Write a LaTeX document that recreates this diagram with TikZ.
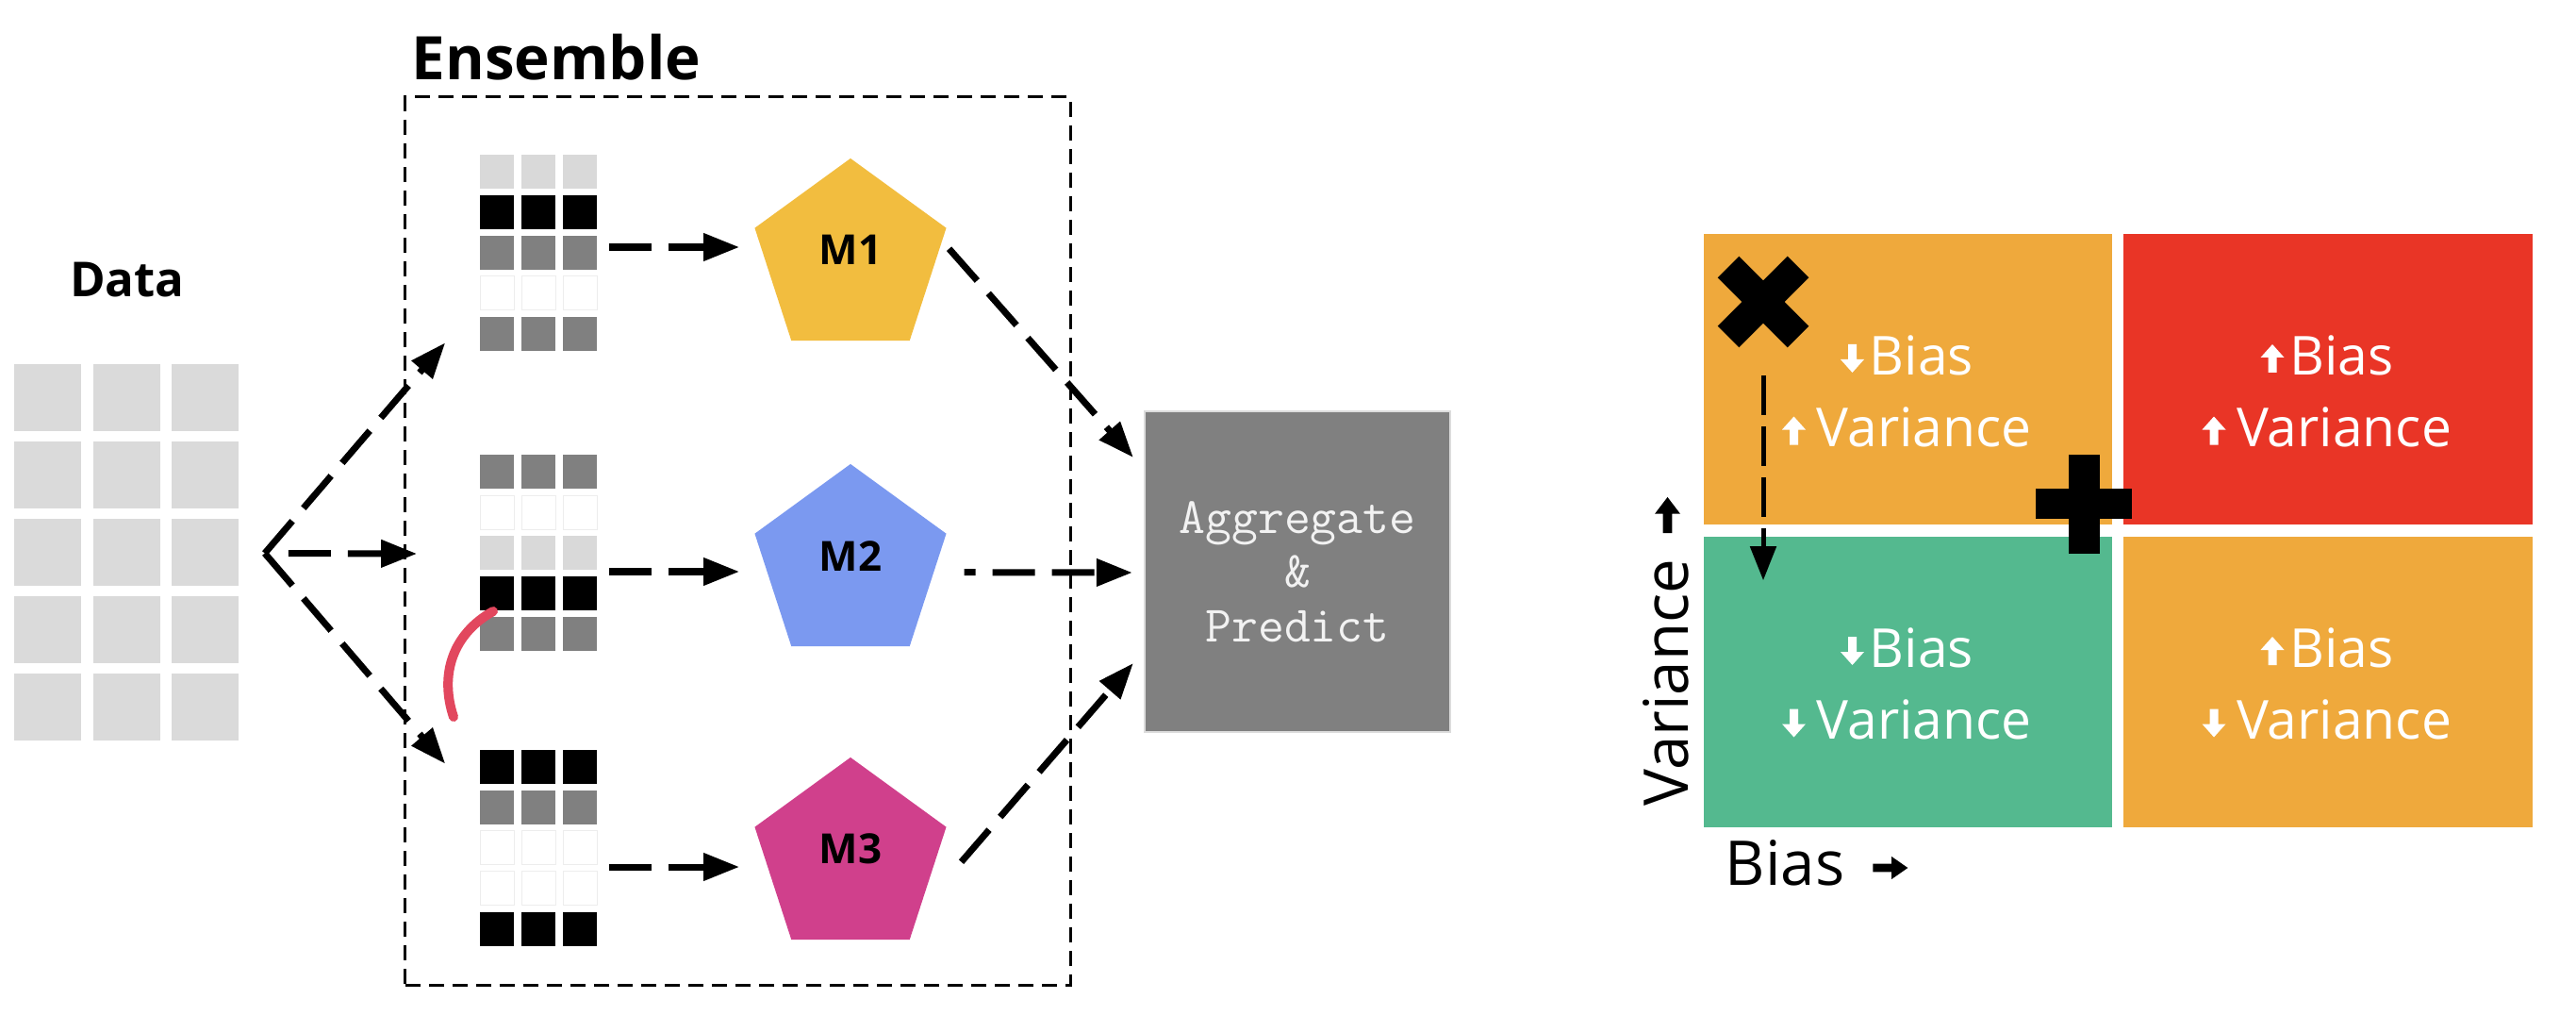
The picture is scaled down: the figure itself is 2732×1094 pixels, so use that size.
\documentclass[tikz,border=0pt]{standalone}
\usepackage{fontspec}
\setmainfont{Open Sans}
\usepackage{tikz}
\usetikzlibrary{positioning,shapes.geometric,arrows.meta}

\definecolor{datagray}{HTML}{DADADA}
\definecolor{celllight}{HTML}{D9D9D9}
\definecolor{cellgray}{HTML}{808080}
\definecolor{mone}{HTML}{F2BD3F}
\definecolor{mtwo}{HTML}{7B99F0}
\definecolor{mthree}{HTML}{D0408C}
\definecolor{aggfill}{HTML}{808080}
\definecolor{aggline}{HTML}{DCDCDC}
\definecolor{aggtext}{HTML}{F2F2F2}
\definecolor{qorange}{HTML}{EFA93C}
\definecolor{qred}{HTML}{E93526}
\definecolor{qgreen}{HTML}{54B98F}
\definecolor{penred}{HTML}{E2475E}

% small heavy arrow, pointing up, centred on its origin
\tikzset{fatarrow/.pic={
  \fill (0,-15) -- (12.5,-1) -- (4.5,-1) -- (4.5,15) -- (-4.5,15) -- (-4.5,-1) -- (-12.5,-1) -- cycle;}}

\begin{document}
\begin{tikzpicture}
        [x=0.01cm,y=-0.01cm,
         gridbox/.style={inner sep=0pt,minimum width=1.24cm,minimum height=2.08cm},
         model/.style={regular polygon,regular polygon sides=5,minimum size=2.134cm,inner sep=0pt,outer sep=0pt},
         mtext/.style={inner sep=0pt,font=\bfseries\fontsize{12.5}{15}\selectfont},
         ensbox/.style={draw,line width=0.03cm,dash pattern=on 0.16cm off 0.09cm,minimum width=7.05cm,minimum height=9.41cm},
         aggbox/.style={fill=aggfill,draw=aggline,line width=0.02cm,minimum width=3.24cm,minimum height=3.4cm,
           align=center,text=aggtext,font=\ttfamily\fontsize{15.4}{16.3}\selectfont},
         quad/.style={inner sep=0pt,minimum width=4.33cm,minimum height=3.08cm},
         qword/.style={inner sep=0pt,text=white,font=\fontsize{16.2}{19}\selectfont},
         axisword/.style={inner sep=0pt,font=\fontsize{18.6}{22}\selectfont},
         flow/.style={line width=0.07cm,dash pattern=on 0.45cm off 0.18cm,-{Triangle[length=0.38cm,width=0.28cm]}},
         move/.style={line width=0.05cm,dash pattern=on 0.42cm off 0.12cm,-{Triangle[length=0.36cm,width=0.27cm]}},
         lightcell/.style={fill=celllight},
         blackcell/.style={fill=black},
         graycell/.style={fill=cellgray},
         whitecell/.style={fill=white,draw=black!7,line width=0.01cm}]
        \fill[white] (0,0) rectangle (2732,1094);
        \useasboundingbox (0,0) rectangle (2732,1094);

        % data
        \node[gridbox,minimum width=2.38cm,minimum height=3.99cm] (data) at (135,586.5) {};
        \foreach \i in {0,1,2}
            \foreach \j in {0,...,4}
                \fill[datagray] ([shift={(83.5*\i,82*\j)}]data.north west) rectangle ++(71,71);
        \node[inner sep=0pt,font=\bfseries\fontsize{14.5}{17}\selectfont,anchor=base] (datalabel) at (135,315) {Data};

        % ensemble
        \node[ensbox] (ens) at (782.5,573.5) {};
        \node[inner sep=0pt,font=\bfseries\fontsize{18.1}{22}\selectfont,anchor=base] (enslabel) at (590,85) {Ensemble};
        \node[gridbox] (g1) at (572,268.5) {};
        \node[gridbox] (g2) at (572,587) {};
        \node[gridbox] (g3) at (572,899.5) {};
        \foreach \g/\rows in {g1/{lightcell,blackcell,graycell,whitecell,graycell},
                              g2/{graycell,whitecell,lightcell,blackcell,graycell},
                              g3/{blackcell,graycell,whitecell,whitecell,blackcell}}
            \foreach \c [count=\j from 0] in \rows
                \foreach \i in {0,1,2}
                    \path[\c] ([shift={(44*\i,43*\j)}]\g.north west) rectangle ++(36,36);

        \node[model,fill=mone] (m1) at (902,274.7) {};
        \node[model,fill=mtwo] (m2) at (902,598.7) {};
        \node[model,fill=mthree] (m3) at (902,909.7) {};
        \foreach \m/\t in {m1/M1, m2/M2, m3/M3}
            \node[mtext,yshift=0.095cm] (\m-text) at (\m.center) {\t};

        \node[aggbox] (agg) at (1376,606) {Aggregate\\\&\\Predict};

        % connectors
        \coordinate[right=0.26cm of data] (fan);
        \draw[flow] (fan) -- ([shift={(-37,-10)}]g1.south west);
        \draw[flow,shorten <=0.25cm] (fan) -- ([xshift=-0.67cm]g2.west);
        \draw[flow] (fan) -- ([shift={(-37,15)}]g3.north west);
        \foreach \i/\dy in {1/-6.5, 2/19, 3/19.5}
            \draw[flow,shorten <=0.11cm,shorten >=0.27cm] ([shift={(0,\dy)}]g\i.east) -- ([shift={(0,\dy)}]g\i.east -| m\i.west);
        \draw[flow] ([shift={(3,22)}]m1.corner 5) -- ([shift={(-11,-121)}]agg.west);
        \draw[flow,dash phase=0.33cm] ([shift={(19,41)}]m2.corner 5) -- ([shift={(-12,1)}]agg.west);
        \draw[flow] ([shift={(16,37)}]m3.corner 5) -- ([shift={(-11,97)}]agg.west);

        % pen mark
        \draw[penred,line width=0.1cm,line cap=round] (523,648) .. controls (480,672) and (466,715) .. (481,760);

        % bias / variance
        \node[quad,fill=qorange] (tl) at (2023.5,402) {};
        \node[quad,fill=qred] (tr) at (2469,402) {};
        \node[quad,fill=qgreen] (bl) at (2023.5,723) {};
        \node[quad,fill=qorange] (br) at (2469,723) {};
        \foreach \q/\qx/\qy/\ab/\av in {tl/2023.5/397/180/0, tr/2469/397/0/0, bl/2023.5/707/180/180, br/2469/707/0/180}
        {
            \node[qword,anchor=base west] (\q-bias) at (\qx-41.5,\qy) {Bias};
            \node[qword,anchor=base west] (\q-var) at (\qx-97.5,\qy+76) {Variance};
            \pic[white,rotate=\ab] at ([shift={(-17.5,-17)}]\q-bias.base west) {fatarrow};
            \pic[white,rotate=\av] at ([shift={(-23.5,-16.5)}]\q-var.base west) {fatarrow};
        }
        \node[axisword,rotate=90,anchor=base west] (vaxis) at (1790,855) {Variance};
        \node[axisword,anchor=base west] (baxis) at (1829,938) {Bias};
        \pic[xscale=1.08,yscale=1.27] at ([shift={(-21.5,-46)}]vaxis.base east) {fatarrow};
        \pic[rotate=-90,xscale=0.96,yscale=1.23] at ([shift={(48,-18)}]baxis.base east) {fatarrow};

        \coordinate (xmark) at (1870,320);
        \draw[line width=0.32cm] ([shift={(-37,-37)}]xmark) -- ([shift={(37,37)}]xmark);
        \draw[line width=0.32cm] ([shift={(-37,37)}]xmark) -- ([shift={(37,-37)}]xmark);
        \coordinate (plusmark) at (2210,534);
        \fill ([shift={(-51,-16)}]plusmark) rectangle ([shift={(51,16)}]plusmark);
        \fill ([shift={(-16.5,-52.5)}]plusmark) rectangle ([shift={(16.5,52.5)}]plusmark);
        \draw[move] ([yshift=-0.78cm]xmark) -- ([yshift=-0.47cm]xmark |- bl.north);

      \end{tikzpicture}
\end{document}
